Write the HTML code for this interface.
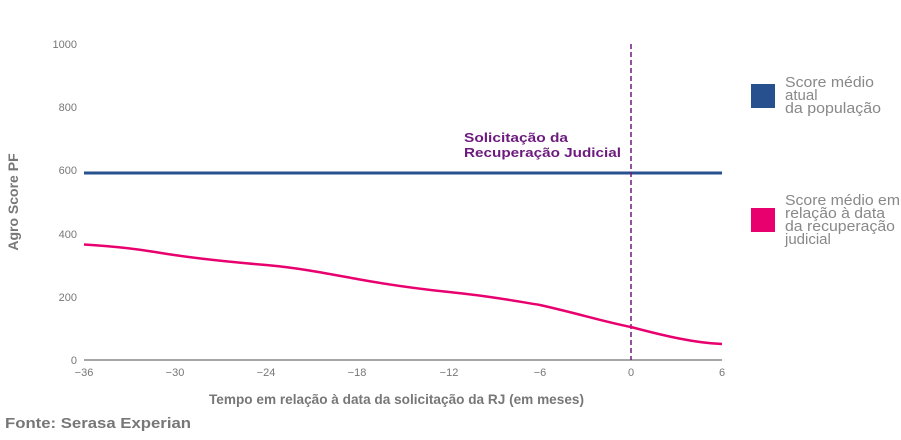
<!DOCTYPE html>
<html><head><meta charset="utf-8"><style>
body{margin:0;background:#fff;width:901px;height:435px;overflow:hidden;font-family:"Liberation Sans",sans-serif}
</style></head><body>
<svg width="901" height="435" xmlns="http://www.w3.org/2000/svg" font-family="Liberation Sans, sans-serif">
<g font-size="11" fill="#777" text-anchor="end">
<text x="77" y="48">1000</text><text x="77" y="111">800</text><text x="77" y="174">600</text>
<text x="77" y="238">400</text><text x="77" y="301">200</text><text x="77" y="364">0</text>
</g>
<line x1="84" y1="360" x2="722" y2="360" stroke="#888" stroke-width="1.5"/>
<g font-size="11" fill="#777" text-anchor="middle">
<text x="84" y="376">−36</text><text x="175" y="376">−30</text><text x="266" y="376">−24</text>
<text x="357" y="376">−18</text><text x="449" y="376">−12</text><text x="540" y="376">−6</text>
<text x="631" y="376">0</text><text x="722" y="376">6</text>
</g>
<line x1="84" y1="173" x2="722" y2="173" stroke="#27508f" stroke-width="3"/>
<line x1="631" y1="44" x2="631" y2="360" stroke="#6d1a7e" stroke-width="1.5" stroke-dasharray="5,3"/>
<path d="M84,244.5 C110,246 130,248 155,252 C190,258 230,262 266,265 C300,268 330,274 357,279 C390,285 420,289 449,292 C490,296 515,301 540,305 C580,314 605,322 631,327 C665,336 695,343 722,344" fill="none" stroke="#e8006f" stroke-width="2.5"/>
<g font-size="13" font-weight="bold" fill="#6d1a7e">
<text x="464" y="142" textLength="104" lengthAdjust="spacingAndGlyphs">Solicitação da</text><text x="464" y="157" textLength="157" lengthAdjust="spacingAndGlyphs">Recuperação Judicial</text>
</g>
<text transform="translate(18,202) rotate(-90)" text-anchor="middle" font-size="14" font-weight="bold" fill="#777">Agro Score PF</text>
<text x="209" y="404" font-size="14" font-weight="bold" fill="#777" textLength="375" lengthAdjust="spacingAndGlyphs">Tempo em relação à data da solicitação da RJ (em meses)</text>
<text x="5" y="428" font-size="15" font-weight="bold" fill="#777" textLength="186" lengthAdjust="spacingAndGlyphs">Fonte: Serasa Experian</text>
<rect x="751" y="84" width="24" height="24" fill="#27508f"/>
<g font-size="15" fill="#888"><text x="785" y="87" textLength="89" lengthAdjust="spacingAndGlyphs">Score médio</text><text x="785" y="100">atual</text><text x="785" y="113" textLength="96" lengthAdjust="spacingAndGlyphs">da população</text></g>
<rect x="751" y="208" width="24" height="24" fill="#e8006f"/>
<g font-size="15" fill="#888"><text x="785" y="205" textLength="115" lengthAdjust="spacingAndGlyphs">Score médio em</text><text x="785" y="218" textLength="100" lengthAdjust="spacingAndGlyphs">relação à data</text><text x="785" y="231" textLength="110" lengthAdjust="spacingAndGlyphs">da recuperação</text><text x="785" y="244">judicial</text></g>
</svg>
</body></html>
